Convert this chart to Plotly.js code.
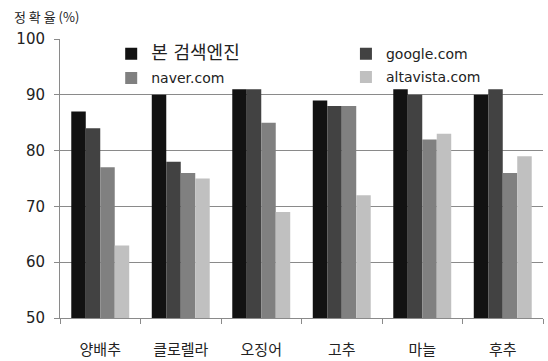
<!DOCTYPE html>
<html><head><meta charset="utf-8">
<script src="https://cdn.plot.ly/plotly-3.0.1.min.js"></script>
<style>body{margin:0;background:#fff}#c{width:548px;height:361px}</style>
</head><body><div id="c"></div>
<script>
const categories = ['양배추', '클로렐라', '오징어', '고추', '마늘', '후추'];
const seriesNames = ['본 검색엔진', 'google.com', 'naver.com', 'altavista.com'];
const ours = [87, 90, 91, 89, 91, 90];
const google = [84, 78, 91, 88, 90, 91];
const naver = [77, 76, 85, 88, 82, 76];
const altavista = [63, 75, 69, 72, 83, 79];
const colors = ['#121212', '#424242', '#808080', '#c0c0c0'];
const yTicks = [50, 60, 70, 80, 90, 100];

const values = [ours, google, naver, altavista];
const legendOf = ['legend', 'legend2', 'legend', 'legend2'];
const traces = values.map((v, i) => ({
  type: 'bar', x: categories, y: v,
  name: i === 0 ? '<span style="font-size:18px">' + seriesNames[i] + '</span>' : seriesNames[i],
  legend: legendOf[i], legendgroup: 'g' + i,
  marker: {color: colors[i], line: {width: 0}}
}));

const font = "'Noto Sans CJK KR', 'DejaVu Sans', sans-serif";
const legFont = {size: 14, color: '#222', family: "'DejaVu Sans', 'Noto Sans CJK KR', sans-serif"};
const legBase = {
  orientation: 'v', y: 1.003, xanchor: 'left', yanchor: 'top',
  bgcolor: 'rgba(255,255,255,0)', font: legFont,
  itemwidth: 30, traceorder: 'grouped', tracegroupgap: 3
};
const layout = {
  width: 548, height: 361,
  margin: {l: 60, r: 5, t: 39, b: 43},
  paper_bgcolor: '#fff', plot_bgcolor: '#fff',
  barmode: 'group', bargap: 0.28, bargroupgap: 0,
  font: {family: font, color: '#222'},
  showlegend: true,
  legend: Object.assign({}, legBase, {x: 0.106}),
  legend2: Object.assign({}, legBase, {x: 0.592, tracegroupgap: 2}),
  xaxis: {
    type: 'category', showline: true, linecolor: '#8a8a8a', linewidth: 1,
    ticks: 'outside', tickson: 'boundaries', ticklen: 5, tickcolor: '#8a8a8a',
    tickfont: {size: 15, color: '#222', family: font}, ticklabelstandoff: 18,
    showgrid: false
  },
  yaxis: {
    range: [50, 100], tickvals: yTicks, ticktext: yTicks.map(String),
    showgrid: true, gridcolor: '#8a8a8a', gridwidth: 1,
    showline: true, linecolor: '#8a8a8a', linewidth: 1,
    ticks: 'outside', ticklen: 5, tickcolor: '#8a8a8a',
    tickfont: {size: 15, color: '#222', family: "'DejaVu Sans', sans-serif"},
    ticklabelstandoff: 6, zeroline: false
  },
  annotations: [{
    text: '정 확 율 (%)', xref: 'paper', yref: 'paper', x: -0.1, y: 1.04,
    xanchor: 'left', yanchor: 'bottom', showarrow: false,
    font: {size: 13, color: '#222', family: font}
  }]
};
Plotly.newPlot('c', traces, layout, {displayModeBar: false, staticPlot: true});
</script></body></html>
